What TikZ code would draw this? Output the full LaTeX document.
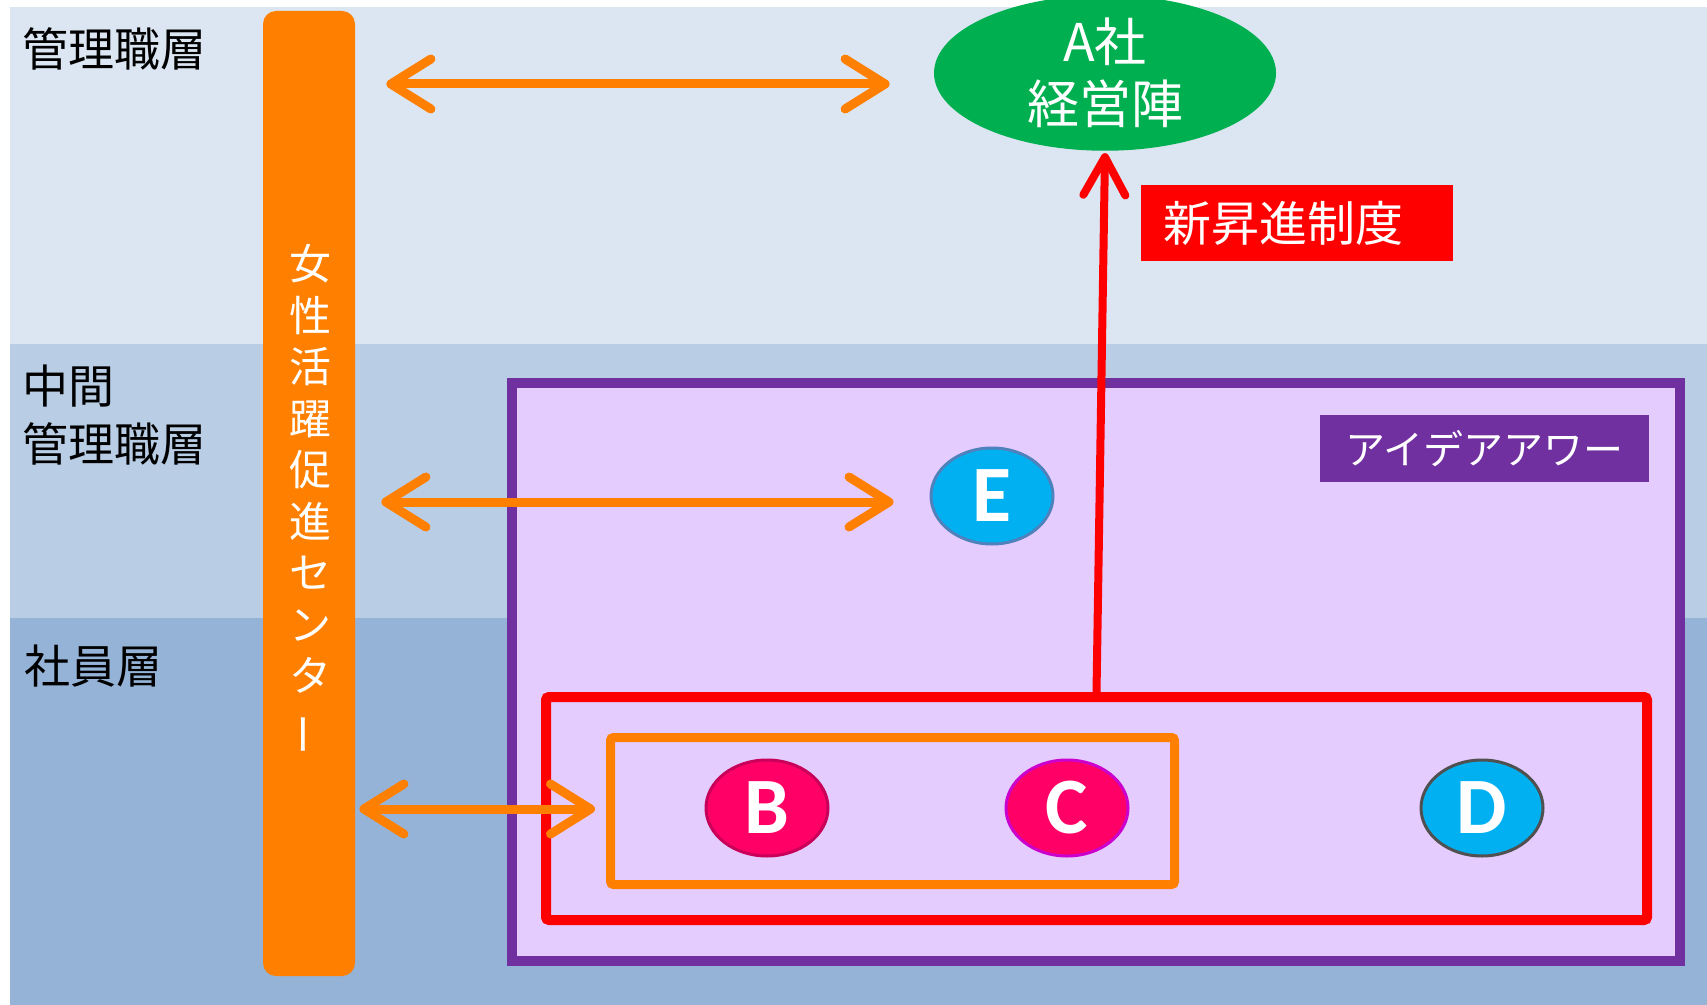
\documentclass[tikz,border=0pt]{standalone}
\usepackage{fontspec}
\usepackage{graphicx}
\newfontfamily\jp{Noto Sans CJK JP}
\newfontfamily\lat{Carlito}
\usetikzlibrary{shapes.geometric,arrows.meta,calc}
\definecolor{bandA}{HTML}{DCE6F2}
\definecolor{bandB}{HTML}{B9CDE5}
\definecolor{bandC}{HTML}{95B3D7}
\definecolor{orng}{HTML}{FF8000}
\definecolor{grn}{HTML}{00B050}
\definecolor{purp}{HTML}{7030A0}
\definecolor{lav}{HTML}{E5CCFF}
\definecolor{cyanb}{HTML}{00B0F0}
\definecolor{pinkb}{HTML}{FF0066}
\definecolor{redb}{HTML}{FF0000}
\begin{document}
\begin{tikzpicture}[x=0.5pt,y=-0.5pt,
  lbl/.style={anchor=west,inner sep=0pt,font=\jp\fontsize{23pt}{29pt}\selectfont,text=black,align=left},
  letter/.style={ellipse,minimum width=61pt,minimum height=48pt,inner sep=0pt,line width=1.5pt,text=white,font=\lat\bfseries\fontsize{40pt}{40pt}\selectfont},
  tag/.style={rectangle,inner sep=0pt,text=white},
  dbl/.style={draw=orng,line width=4.5pt,line cap=round,
     {Straight Barb[length=20pt,width=25pt,round]}-{Straight Barb[length=20pt,width=25pt,round]}},
  uparr/.style={draw=redb,line width=4pt,line cap=round,-{Straight Barb[length=19pt,width=21pt,round]}}]
\useasboundingbox (0,0) rectangle (1707,1005);
\fill[white] (0,0) rectangle (1707,1005);
\fill[bandA] (10,7) rectangle (1707,344);
\fill[bandB] (10,344) rectangle (1707,618);
\fill[bandC] (10,618) rectangle (1707,1005);

% layer labels
\node[lbl] (l1) at (22,49) {管理職層};
\node[lbl] (l2) at (22,415) {中間\\管理職層};
\node[lbl] (l3) at (24,666) {社員層};

% vertical bar
\node[rectangle,rounded corners=6.5pt,fill=orng,minimum width=46pt,minimum height=482.5pt,inner sep=0pt] (bar) at (309,493.5) {};
\node[inner sep=0pt,text=white,align=center,font=\jp\fontsize{21pt}{25.75pt}\selectfont] (bartext) at (310,500)
  {女\\性\\活\\躍\\促\\進\\セ\\ン\\タ\\\rotatebox[origin=c]{90}{ー}};

% management ellipse
\node[ellipse,fill=grn,minimum width=171pt,minimum height=70pt,inner sep=0pt,text=white,align=center,
  font=\jp\fontsize{26pt}{31pt}\selectfont] (aA) at (1105,73) {\raisebox{-3pt}{A社}\\\raisebox{-3pt}{経営陣}};

% new promotion label
\node[tag,fill=redb,minimum width=156pt,minimum height=38pt,font=\jp\fontsize{24pt}{24pt}\selectfont] (promo) at (1297,223) {\hspace*{-14pt}新昇進制度};

% idea award box
\node[rectangle,draw=purp,fill=lav,line width=5pt,minimum width=584pt,minimum height=289pt,inner sep=0pt] (idea) at (1096,672) {};
\node[tag,fill=purp,minimum width=164.5pt,minimum height=33.5pt,font=\jp\fontsize{20pt}{20pt}\selectfont] (ideatag) at (1484.5,448.5) {アイデアアワー};

% red group box
\node[rectangle,draw=redb,line width=5pt,rounded corners=1.5pt,minimum width=550.5pt,minimum height=111.5pt,inner sep=0pt] (grpR) at (1096.5,808.5) {};
% orange group box
\node[rectangle,draw=orng,line width=4.5pt,rounded corners=1.5pt,minimum width=282pt,minimum height=73.5pt,inner sep=0pt] (grpO) at (892.5,811) {};

% letters
\node[letter,fill=cyanb,draw={rgb,255:red,79;green,129;blue,189}] (E) at (992,496) {E};
\node[letter,fill=pinkb,draw={rgb,255:red,200;green,0;blue,90}] (B) at (767,808) {B};
\node[letter,fill=pinkb,draw={rgb,255:red,204;green,0;blue,204}] (C) at (1067,808) {C};
\node[letter,fill=cyanb,draw={rgb,255:red,80;green,80;blue,80}] (D) at (1482,808) {D};

% arrows
\draw[dbl] ($(bar.east |- aA.west)+(15.5pt,-5.5pt)$) -- ($(aA.west)+(-22pt,-5.5pt)$);
\draw[dbl] ($(bar.east |- E.west)+(13pt,-3pt)$) -- ($(E.west)+(-18pt,-3pt)$);
\draw[dbl] ($(bar.east |- grpO.west)+(2pt,1pt)$) -- ($(grpO.west)+(-5.5pt,1pt)$);
\draw[uparr] (grpR.north) -- ($(aA.south)+(0,-1pt)$);
\end{tikzpicture}
\end{document}
